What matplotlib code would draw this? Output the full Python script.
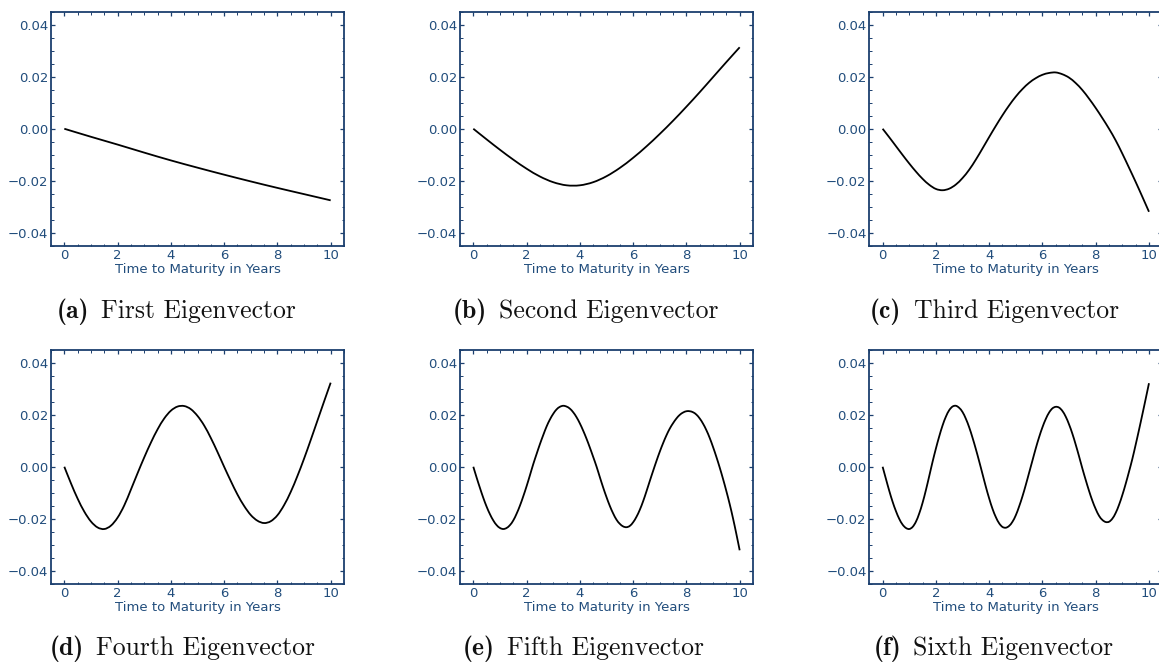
import numpy as np
import matplotlib
matplotlib.use("Agg")
import matplotlib.pyplot as plt
from matplotlib.ticker import AutoMinorLocator
from matplotlib.path import Path
from matplotlib.patches import PathPatch

# ---------------- data ----------------
x_a = [0, 1, 2, 3, 4, 5, 6, 7, 8, 9, 10]
ev1 = [0.0, -0.0031, -0.0061, -0.0092, -0.0122, -0.0150, -0.0177, -0.0203,
       -0.0228, -0.0252, -0.0276]

x_b = [0, 0.5, 1, 1.5, 2, 2.5, 3, 3.5, 4, 4.5, 5, 5.5, 6, 6.5, 7, 7.5, 8,
       8.5, 9, 9.5, 10]
ev2 = [0.0, -0.0041, -0.0081, -0.0119, -0.0154, -0.0184, -0.0206, -0.0218,
       -0.0218, -0.0206, -0.0183, -0.0151, -0.0112, -0.0068, -0.0020, 0.0031,
       0.0085, 0.0141, 0.0199, 0.0257, 0.0314]

x_q = [0, 0.25, 0.5, 0.75, 1, 1.25, 1.5, 1.75, 2, 2.25, 2.5, 2.75, 3, 3.25,
       3.5, 3.75, 4, 4.25, 4.5, 4.75, 5, 5.25, 5.5, 5.75, 6, 6.25, 6.5, 6.75,
       7, 7.25, 7.5, 7.75, 8, 8.25, 8.5, 8.75, 9, 9.25, 9.5, 9.75, 10]
ev3 = [0.0, -0.0033, -0.0067, -0.0101, -0.0134, -0.0165, -0.0193, -0.0216,
       -0.0232, -0.0237, -0.0231, -0.0215, -0.0190, -0.0158, -0.0119, -0.0076,
       -0.0032, 0.0011, 0.0052, 0.0090, 0.0124, 0.0153, 0.0177, 0.0195,
       0.0208, 0.0215, 0.0217, 0.0210, 0.0197, 0.0176, 0.0149, 0.0116,
       0.0080, 0.0041, 0.0000, -0.0045, -0.0096, -0.0150, -0.0205, -0.0262,
       -0.0320]
ev4 = [0.0, -0.0064, -0.0123, -0.0173, -0.0211, -0.0234, -0.0240, -0.0227,
       -0.0196, -0.0149, -0.0088, -0.0025, 0.0036, 0.0093, 0.0144, 0.0186,
       0.0216, 0.0232, 0.0234, 0.0222, 0.0196, 0.0159, 0.0111, 0.0057,
       0.0000, -0.0055, -0.0107, -0.0151, -0.0186, -0.0208, -0.0217, -0.0210,
       -0.0187, -0.0148, -0.0097, -0.0036, 0.0031, 0.0103, 0.0177, 0.0251,
       0.0324]

x_e = [0, 0.125, 0.25, 0.375, 0.5, 0.625, 0.75, 0.875, 1, 1.125, 1.25, 1.375,
       1.5, 1.625, 1.75, 1.875, 2, 2.125, 2.25, 2.375, 2.5, 2.625, 2.75,
       2.875, 3, 3.125, 3.25, 3.375, 3.5, 3.625, 3.75, 3.875, 4, 4.125, 4.25,
       4.375, 4.5, 4.625, 4.75, 4.875, 5, 5.125, 5.25, 5.375, 5.5, 5.625,
       5.75, 5.875, 6, 6.125, 6.25, 6.375, 6.5, 6.625, 6.75, 6.875, 7, 7.125,
       7.25, 7.375, 7.5, 7.625, 7.75, 7.875, 8, 8.125, 8.25, 8.375, 8.5,
       8.625, 8.75, 8.875, 9, 9.125, 9.25, 9.375, 9.5, 9.625, 9.75, 9.875, 10]
ev5 = [0.0, -0.0042, -0.0082, -0.0120, -0.0154, -0.0183, -0.0207, -0.0225,
       -0.0236, -0.0240, -0.0236, -0.0225, -0.0207, -0.0181, -0.0150, -0.0114,
       -0.0075, -0.0033, 0.0010, 0.0049, 0.0087, 0.0122, 0.0155, 0.0182,
       0.0204, 0.0221, 0.0231, 0.0235, 0.0232, 0.0224, 0.0210, 0.0191,
       0.0167, 0.0139, 0.0108, 0.0074, 0.0038, 0.0001, -0.0040, -0.0080,
       -0.0117, -0.0151, -0.0180, -0.0204, -0.0220, -0.0230, -0.0233, -0.0228,
       -0.0214, -0.0193, -0.0166, -0.0133, -0.0095, -0.0055, -0.0016, 0.0022,
       0.0058, 0.0091, 0.0121, 0.0147, 0.0168, 0.0186, 0.0200, 0.0209,
       0.0214, 0.0214, 0.0210, 0.0201, 0.0186, 0.0166, 0.0141, 0.0111,
       0.0076, 0.0038, -0.0003, -0.0047, -0.0094, -0.0144, -0.0199, -0.0259,
       -0.0322]
ev6 = [0.0, -0.0047, -0.0093, -0.0135, -0.0171, -0.0201, -0.0223, -0.0236,
       -0.0240, -0.0232, -0.0212, -0.0180, -0.0139, -0.0090, -0.0036, 0.0019,
       0.0070, 0.0117, 0.0159, 0.0193, 0.0218, 0.0232, 0.0235, 0.0227,
       0.0211, 0.0185, 0.0152, 0.0112, 0.0068, 0.0021, -0.0028, -0.0077,
       -0.0122, -0.0162, -0.0194, -0.0218, -0.0232, -0.0235, -0.0228, -0.0212,
       -0.0187, -0.0153, -0.0114, -0.0070, -0.0023, 0.0024, 0.0071, 0.0114,
       0.0152, 0.0184, 0.0209, 0.0225, 0.0231, 0.0228, 0.0215, 0.0193,
       0.0163, 0.0127, 0.0085, 0.0040, -0.0007, -0.0051, -0.0093, -0.0131,
       -0.0163, -0.0189, -0.0205, -0.0213, -0.0212, -0.0200, -0.0178, -0.0147,
       -0.0109, -0.0066, -0.0019, 0.0030, 0.0085, 0.0142, 0.0201, 0.0261,
       0.0322]

series = [(x_a, ev1), (x_b, ev2), (x_q, ev3), (x_q, ev4), (x_e, ev5), (x_e, ev6)]
letters = ["(a)", "(b)", "(c)", "(d)", "(e)", "(f)"]
names = ["First Eigenvector", "Second Eigenvector", "Third Eigenvector",
         "Fourth Eigenvector", "Fifth Eigenvector", "Sixth Eigenvector"]
xlabel = "Time to Maturity in Years"
yticks = [-0.04, -0.02, 0.00, 0.02, 0.04]
xticks = [0, 2, 4, 6, 8, 10]


def smooth_path(xs, ys):
    """Smooth curve (Catmull-Rom as cubic Bezier) through the data points."""
    p = np.column_stack([xs, ys]).astype(float)
    n = len(p)
    verts = [p[0]]
    codes = [Path.MOVETO]
    for i in range(n - 1):
        p0 = p[i - 1] if i > 0 else p[i]
        p1 = p[i]
        p2 = p[i + 1]
        p3 = p[i + 2] if i + 2 < n else p[i + 1]
        c1 = p1 + (p2 - p0) / 6.0
        c2 = p2 - (p3 - p1) / 6.0
        verts += [c1, c2, p2]
        codes += [Path.CURVE4] * 3
    return Path(verts, codes)


# ---------------- layout ----------------
W, H = 1159, 662
fig = plt.figure(figsize=(W / 100, H / 100), dpi=100)
renderer = fig.canvas.get_renderer()

spine_col = "#1b3f6e"
label_col = "#214d7c"

col_left = [51, 460, 869.3]
row_top = [12, 350]
ax_w, ax_h = 293, 233.5
cap_x = [176, 585.5, 994.5, 182.5, 583.5, 993.5]
cap_base = [318, 655]
cap_size = 18.5
cap_gap = 12

for i, (xs, ys) in enumerate(series):
    r, c = divmod(i, 3)
    l = col_left[c]
    t = row_top[r]
    ax = fig.add_axes([l / W, 1 - (t + ax_h) / H, ax_w / W, ax_h / H])
    ax.add_patch(PathPatch(smooth_path(xs, ys), fill=False,
                           edgecolor="black", lw=1.3,
                           transform=ax.transData))
    ax.set_xlim(-0.5, 10.5)
    ax.set_ylim(-0.045, 0.045)
    ax.set_xticks(xticks)
    ax.set_yticks(yticks)
    ax.xaxis.set_minor_locator(AutoMinorLocator())
    ax.yaxis.set_minor_locator(AutoMinorLocator())
    for s in ax.spines.values():
        s.set_color(spine_col)
        s.set_linewidth(1.3)
    ax.tick_params(which="both", direction="in", top=True, right=True,
                   color=spine_col, labelcolor=label_col, labelsize=9.5)
    ax.tick_params(which="major", length=3.2, width=0.9)
    ax.tick_params(which="minor", length=1.8, width=0.7)
    ax.tick_params(axis="x", which="major", pad=2.5)
    ax.tick_params(axis="y", which="major", pad=2)
    ax.set_xlabel(xlabel, fontsize=9.5, color=label_col, labelpad=1)

    yb = 1 - cap_base[r] / H
    t1 = fig.text(0, yb, letters[i], family="cmb10", fontsize=cap_size,
                  ha="left", va="baseline", color="#111111")
    t2 = fig.text(0, yb, names[i], family="cmr10", fontsize=cap_size,
                  ha="left", va="baseline", color="#111111")
    w1 = t1.get_window_extent(renderer).width
    w2 = t2.get_window_extent(renderer).width
    start = cap_x[i] - (w1 + cap_gap + w2) / 2.0
    t1.set_x(start / W)
    t2.set_x((start + w1 + cap_gap) / W)

fig.savefig("out.png", dpi=100)
